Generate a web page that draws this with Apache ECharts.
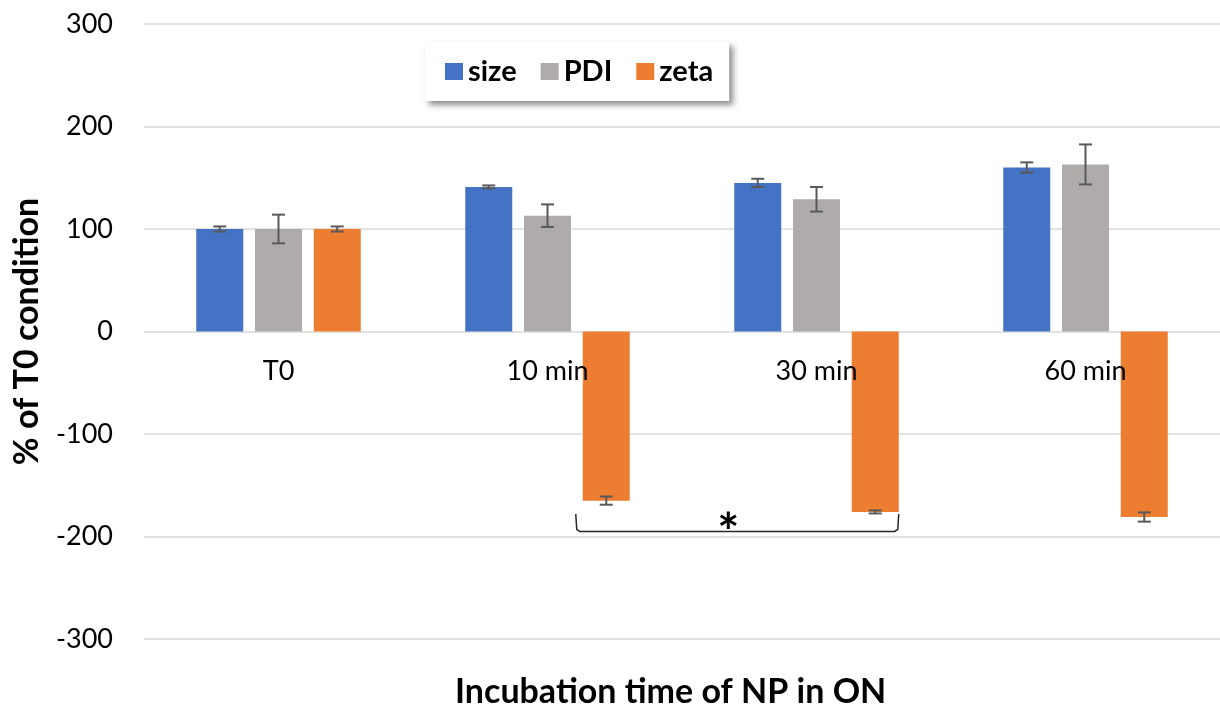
<!DOCTYPE html>
<html>
<head>
<meta charset="utf-8">
<script src="https://cdn.jsdelivr.net/npm/echarts@6/dist/echarts.min.js"></script>
<style>html,body{margin:0;padding:0;background:#fff;}#c{width:1220px;height:708px;}</style>
</head>
<body>
<div id="c"></div>
<script>
// ---- data ----
const categories = ['T0', '10 min', '30 min', '60 min'];
const sizeValues = [100, 141, 145, 160];
const sizeErrors = [2.5, 1.5, 4, 5];
const pdiValues = [100, 113, 129, 163];
const pdiErrors = [14, 11, 12, 19.5];
const zetaValues = [100, -165, -176, -181];
const zetaErrors = [2.5, 4, 1.5, 4.5];
const yTicks = [-300, -200, -100, 0, 100, 200, 300];
// significance bracket: from category 1 zeta to category 2 zeta, spanning values
const sigBracket = [[1, 2, -178, -195]];
const sigLabel = '*';

const FONT = 'Lato, "Noto Sans", sans-serif';
const BAR_W = 47, GAP = 0.25;
const STEP = BAR_W * (1 + GAP);
const colors = ['#4472C4', '#AFABAB', '#ED7D31'];
const GRID = { left: 144, right: 0, top: 24, bottom: 69 };
const PLOT_H = 708 - GRID.top - GRID.bottom;
// category labels sit just below the zero line (distance of zero line above the grid bottom)
const zeroFromBottom = PLOT_H * (0 - yTicks[0]) / (yTicks[yTicks.length - 1] - yTicks[0]);

function errSeries(vals, errs, idx) {
  return {
    type: 'custom',
    z: 5,
    silent: true,
    data: vals.map((v, i) => [i, v, errs[i]]),
    renderItem: function (params, api) {
      const x = api.value(0), v = api.value(1), e = api.value(2);
      const off = (idx - 1) * STEP;
      const hi = api.coord([x, v + e]);
      const lo = api.coord([x, v - e]);
      const cx = hi[0] + off;
      const cap = 6.5;
      const st = { stroke: '#595959', lineWidth: 2 };
      return {
        type: 'group',
        children: [
          { type: 'line', shape: { x1: cx, y1: hi[1], x2: cx, y2: lo[1] }, style: st },
          { type: 'line', shape: { x1: cx - cap, y1: hi[1], x2: cx + cap, y2: hi[1] }, style: st },
          { type: 'line', shape: { x1: cx - cap, y1: lo[1], x2: cx + cap, y2: lo[1] }, style: st }
        ]
      };
    }
  };
}

const chart = echarts.init(document.getElementById('c'));
chart.setOption({
  animation: false,
  textStyle: { fontFamily: FONT },
  title: {
    text: 'Incubation time of NP in ON',
    left: 450, top: 670,
    textStyle: { fontFamily: FONT, fontWeight: 'bold', fontSize: 34, color: '#000' }
  },
  legend: {
    left: 425, top: 42,
    itemWidth: 18, itemHeight: 17, itemGap: 24,
    padding: [15, 16, 15, 20],
    backgroundColor: '#fff',
    shadowColor: 'rgba(0,0,0,0.45)', shadowBlur: 6, shadowOffsetX: 4, shadowOffsetY: 4,
    icon: 'rect',
    textStyle: { fontFamily: FONT, fontWeight: 'bold', fontSize: 29, color: '#000' },
    data: ['size', 'PDI', 'zeta']
  },
  grid: GRID,
  xAxis: {
    type: 'category',
    z: 10,
    data: categories,
    axisTick: { show: false },
    axisLine: { show: false, onZero: false },
    axisLabel: { fontFamily: FONT, fontSize: 27, color: '#000', margin: 26 - zeroFromBottom },
    splitLine: { show: false }
  },
  yAxis: {
    type: 'value',
    min: yTicks[0], max: yTicks[yTicks.length - 1], interval: 100,
    name: '% of T0 condition',
    nameLocation: 'middle', nameGap: 100,
    nameTextStyle: { fontFamily: FONT, fontWeight: 'bold', fontSize: 34, color: '#000' },
    axisLine: { show: false },
    axisTick: { show: false },
    axisLabel: { fontFamily: FONT, fontSize: 27, color: '#000', margin: 31 },
    splitLine: { lineStyle: { color: '#D9D9D9', width: 1.5 } }
  },
  series: [
    { name: 'size', type: 'bar', data: sizeValues, barWidth: BAR_W, barGap: (GAP * 100) + '%', itemStyle: { color: colors[0] } },
    { name: 'PDI', type: 'bar', data: pdiValues, barWidth: BAR_W, barGap: (GAP * 100) + '%', itemStyle: { color: colors[1] } },
    { name: 'zeta', type: 'bar', data: zetaValues, barWidth: BAR_W, barGap: (GAP * 100) + '%', itemStyle: { color: colors[2] } },
    errSeries(sizeValues, sizeErrors, 0),
    errSeries(pdiValues, pdiErrors, 1),
    errSeries(zetaValues, zetaErrors, 2),
    {
      type: 'custom', z: 6, silent: true,
      data: sigBracket,
      renderItem: function (params, api) {
        const c1 = api.value(0), c2 = api.value(1), yT = api.value(2), yB = api.value(3);
        const p1 = api.coord([c1, yT]);
        const p2 = api.coord([c2, yB]);
        const left = p1[0] + STEP - BAR_W / 2 - 7;
        const right = p2[0] + STEP + BAR_W / 2;
        const top = p1[1], bot = p2[1];
        return {
          type: 'group',
          children: [
            { type: 'polyline', shape: { points: [[left, top], [left + 1, bot - 2], [left + 4, bot], [right - 4, bot], [right - 1, bot - 2], [right, top]] },
              style: { stroke: '#262626', lineWidth: 1.5, fill: null } },
            { type: 'text', style: { text: sigLabel, x: (left + right) / 2 - 9, y: (top + bot) / 2 + 12, align: 'center', verticalAlign: 'middle',
              font: 'bold 52px ' + FONT, fill: '#000' } }
          ]
        };
      }
    }
  ]
});
</script>
</body>
</html>
